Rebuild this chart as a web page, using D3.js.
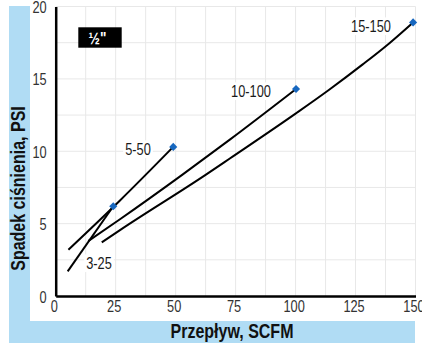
<!DOCTYPE html>
<html>
<head>
<meta charset="utf-8">
<script src="https://cdn.jsdelivr.net/npm/d3@7"></script>
<style>
  html, body { margin: 0; padding: 0; background: #fff; }
  svg { display: block; }
  text { font-family: "Liberation Sans", Arial, sans-serif; }
</style>
</head>
<body>
<svg id="chart" width="422" height="347"></svg>
<script>
// Pressure drop vs. flow for the 1/2" regulator range variants
const seriesNames = ["3-25", "5-50", "10-100", "15-150"];
const flow325   = [5.0, 24.0];
const drop325   = [1.7, 6.2];
const flow550   = [5.3, 26.8, 49.0];
const drop550   = [3.2, 6.6, 10.3];
const flow10100 = [13.6, 26.8, 53.0, 72.6, 100.2];
const drop10100 = [3.8, 5.3, 8.4, 10.8, 14.3];
const flow15150 = [19.2, 26.8, 62.8, 72.6, 100.0, 114.0, 128.0, 139.0, 149.0];
const drop15150 = [3.7, 4.55, 8.4, 9.5, 12.6, 14.25, 16.0, 17.45, 18.9];
const xTicks = [0, 25, 50, 75, 100, 125, 150];
const yTicks = [0, 5, 10, 15, 20];
const xTitle = "Przepływ, SCFM";
const yTitle = "Spadek ciśnienia, PSI";
const sizeTag = "½\"";

const flows = [flow325, flow550, flow10100, flow15150];
const drops = [drop325, drop550, drop10100, drop15150];
const series = seriesNames.map((name, i) => ({
  name,
  points: flows[i].map((f, j) => [f, drops[i][j]])
}));

// narrow the glyphs horizontally around the text's own anchor point
const NARROW = 0.8;
function condense(sel) {
  sel.each(function () {
    const t = d3.select(this);
    const tx = +t.attr("x") || 0, ty = +t.attr("y") || 0;
    const prev = t.attr("transform") || "";
    t.attr("transform", `${prev} translate(${tx},${ty}) scale(${NARROW},1) translate(${-tx},${-ty})`);
  });
}

const svg = d3.select("#chart");
const x = d3.scaleLinear().domain([0, 150]).range([55.7, 415.5]);
const y = d3.scaleLinear().domain([0, 20]).range([296, 6.5]);

// light blue L-shaped frame behind the axis titles
const band = "#b0dcf4";
svg.append("rect").attr("x", 9).attr("y", 6).attr("width", 21).attr("height", 337).attr("fill", band);
svg.append("rect").attr("x", 9).attr("y", 321).attr("width", 406).attr("height", 22).attr("fill", band);

// grid
const grid = svg.append("g").attr("stroke", "#e8e8e8").attr("stroke-width", 1);
d3.range(12.5, 150.1, 12.5).forEach(v => {
  grid.append("line").attr("x1", x(v)).attr("x2", x(v)).attr("y1", y(0)).attr("y2", y(20));
});
d3.range(2.5, 20.1, 2.5).forEach(v => {
  grid.append("line").attr("x1", x(0)).attr("x2", x(150)).attr("y1", y(v)).attr("y2", y(v));
});

// curves
const line = d3.line().x(d => x(d[0])).y(d => y(d[1])).curve(d3.curveMonotoneX);
svg.append("g").selectAll("path").data(series).join("path")
  .attr("d", d => line(d.points))
  .attr("fill", "none").attr("stroke", "#000").attr("stroke-width", 2);

// series labels with white backing
const labelPos = {
  "3-25":   [99, 263],
  "5-50":   [138, 149],
  "10-100": [251, 91],
  "15-150": [371, 26]
};
const labels = svg.append("g");
series.forEach(s => {
  const g = labels.append("g");
  const t = g.append("text")
    .attr("x", labelPos[s.name][0]).attr("y", labelPos[s.name][1])
    .attr("text-anchor", "middle").attr("dy", "0.36em")
    .attr("font-size", 16).attr("fill", "#1a1a1a")
    .text(s.name);
  condense(t);
  const b = t.node().getBBox();
  const w = b.width * NARROW;
  g.insert("rect", "text").attr("x", labelPos[s.name][0] - w / 2 - 2).attr("y", b.y)
    .attr("width", w + 4).attr("height", b.height).attr("fill", "#fff");
});

// end-point markers
svg.append("g").selectAll("path").data(series).join("path")
  .attr("transform", d => {
    const p = d.points[d.points.length - 1];
    return `translate(${x(p[0])},${y(p[1])})`;
  })
  .attr("d", d3.symbol(d3.symbolDiamond2, 42))
  .attr("fill", "#1767bf");

// axes
const xAxis = svg.append("g").attr("transform", `translate(0,${y(0)})`)
  .call(d3.axisBottom(x).tickValues(xTicks).tickSize(0).tickPadding(5).tickFormat(d3.format("d")));
const yAxis = svg.append("g").attr("transform", `translate(${x(0)},1)`)
  .call(d3.axisLeft(y).tickValues(yTicks).tickSize(0).tickPadding(9).tickFormat(d3.format("d")));
[xAxis, yAxis].forEach(a => {
  a.select(".domain").attr("stroke", "#000").attr("stroke-width", 2.5);
  a.selectAll("text").attr("font-size", 16).attr("fill", "#333")
    .style("font-family", "'Liberation Sans', Arial, sans-serif");
});
yAxis.select(".domain").attr("transform", "translate(0,-1)");
xAxis.selectAll("text").attr("x", -2);
condense(xAxis.selectAll("text"));
condense(yAxis.selectAll("text"));

// axis titles
const xt = svg.append("text").attr("x", 232).attr("y", 338).attr("text-anchor", "middle")
  .attr("font-size", 20).attr("font-weight", "bold").attr("fill", "#111").text(xTitle);
condense(xt);
svg.append("g").attr("transform", "translate(25,188.5) rotate(-90)")
  .append("text").attr("text-anchor", "middle")
  .attr("font-size", 20).attr("font-weight", "bold").attr("fill", "#111").text(yTitle)
  .call(condense);

// size tag
svg.append("rect").attr("x", 78.3).attr("y", 27.3).attr("width", 43.4).attr("height", 20.4).attr("fill", "#000");
svg.append("text").attr("x", 97.5).attr("y", 37.5).attr("dy", "0.36em").attr("text-anchor", "middle")
  .attr("font-size", 17).attr("font-weight", "bold").attr("fill", "#fff").text(sizeTag)
  .call(condense);
</script>
</body>
</html>
